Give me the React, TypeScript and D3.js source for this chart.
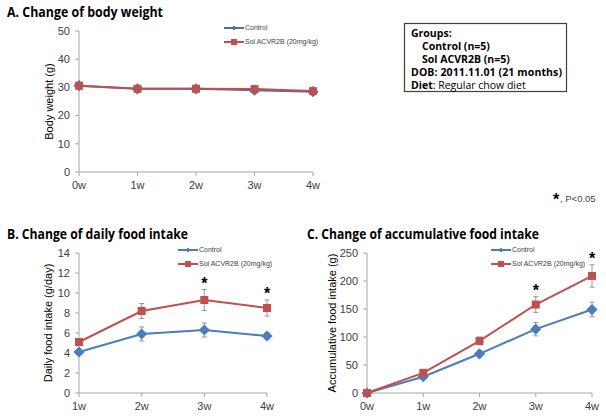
import React from "react";
import * as d3 from "d3";

const weeksA = ["0w", "1w", "2w", "3w", "4w"];
const bwControl = [30.6, 29.5, 29.5, 29.0, 28.5];
const bwSol = [30.6, 29.5, 29.5, 29.4, 28.7];
const bwTicks = [0, 10, 20, 30, 40, 50];

const weeksB = ["1w", "2w", "3w", "4w"];
const dailyControl = [4.1, 5.9, 6.3, 5.7];
const dailyControlErr = [0.2, 0.7, 0.7, 0.3];
const dailySol = [5.1, 8.2, 9.3, 8.5];
const dailySolErr = [0.3, 0.75, 1.05, 0.8];
const dailyTicks = [0, 2, 4, 6, 8, 10, 12, 14];
const dailyStars = ["3w", "4w"];

const weeksC = ["0w", "1w", "2w", "3w", "4w"];
const accControl = [0, 29, 70, 114, 149];
const accControlErr = [0, 3, 6, 12, 13];
const accSol = [0, 36, 93, 158, 209];
const accSolErr = [0, 3, 7, 14, 20];
const accTicks = [0, 50, 100, 150, 200, 250];
const accStars = ["3w", "4w"];

const BLUE = "#4A7EBB";
const BLUE_A = "#4F6FA8";
const RED = "#C0504D";
const AXIS = "#A6A6A6";
const TXT = "#404040";
const SANS = "'Liberation Sans', Arial, sans-serif";
const TITLE = "'Open Sans', 'Noto Sans', sans-serif";

type PanelProps = {
  x0: number; x1: number; y0: number; y1: number;
  cats: string[]; ticks: number[]; max: number;
  ctrl: number[]; sol: number[]; ctrlErr?: number[]; solErr?: number[];
  stars?: string[]; ylabel: string; ylabelX: number; legendX: number; legendY: number;
  ctrlColor: string; markerSize: number;
};

function Panel(p: PanelProps) {
  const x = d3.scalePoint<string>().domain(p.cats).range([p.x0, p.x1]);
  const y = d3.scaleLinear().domain([0, p.max]).range([p.y1, p.y0]);
  const line = d3.line<number>().x((_, i) => x(p.cats[i])!).y((d) => y(d));
  const ms = p.markerSize;
  const diamond = (cx: number, cy: number, s: number) =>
    `M${cx},${cy - s}L${cx + s},${cy}L${cx},${cy + s}L${cx - s},${cy}Z`;
  const errBars = (vals: number[], errs: number[] | undefined) =>
    errs
      ? vals.map((v, i) => {
          const cx = x(p.cats[i])!;
          if (!errs[i]) return null;
          return (
            <g key={i} stroke="#7F7F7F" strokeWidth={0.8}>
              <line x1={cx} x2={cx} y1={y(v - errs[i])} y2={y(v + errs[i])} />
              <line x1={cx - 2.5} x2={cx + 2.5} y1={y(v - errs[i])} y2={y(v - errs[i])} />
              <line x1={cx - 2.5} x2={cx + 2.5} y1={y(v + errs[i])} y2={y(v + errs[i])} />
            </g>
          );
        })
      : null;
  const midY = (p.y0 + p.y1) / 2;
  return (
    <g>
      <line x1={p.x0} x2={p.x0} y1={p.y0} y2={p.y1} stroke={AXIS} strokeWidth={1} />
      <line x1={p.x0} x2={p.x1} y1={p.y1} y2={p.y1} stroke={AXIS} strokeWidth={1} />
      {p.ticks.map((t) => (
        <g key={t}>
          <line x1={p.x0 - 4} x2={p.x0} y1={y(t)} y2={y(t)} stroke={AXIS} />
          <text x={p.x0 - 9} y={y(t)} dy="0.35em" textAnchor="end" fontSize={11} fill={TXT} fontFamily={SANS}>{t}</text>
        </g>
      ))}
      {p.cats.map((c) => (
        <g key={c}>
          <line x1={x(c)!} x2={x(c)!} y1={p.y1} y2={p.y1 + 4} stroke={AXIS} />
          <text x={x(c)!} y={p.y1 + 17} textAnchor="middle" fontSize={11} fill={TXT} fontFamily={SANS}>{c}</text>
        </g>
      ))}
      <text transform={`translate(${p.ylabelX},${midY}) rotate(-90)`} textAnchor="middle" fontSize={11} fill="#000" fontFamily={SANS}>{p.ylabel}</text>
      {errBars(p.ctrl, p.ctrlErr)}
      {errBars(p.sol, p.solErr)}
      <path d={line(p.ctrl)!} fill="none" stroke={p.ctrlColor} strokeWidth={2} />
      <path d={line(p.sol)!} fill="none" stroke={RED} strokeWidth={2} />
      {p.ctrl.map((v, i) => (
        <path key={"c" + i} d={diamond(x(p.cats[i])!, y(v), ms * 0.7)} fill={p.ctrlColor} />
      ))}
      {p.sol.map((v, i) => (
        <rect key={"s" + i} x={x(p.cats[i])! - ms / 2} y={y(v) - ms / 2} width={ms} height={ms} fill={RED} />
      ))}
      {p.stars && p.solErr
        ? p.stars.map((s) => {
            const i = p.cats.indexOf(s);
            return (
              <text key={s} x={x(s)!} y={y(p.sol[i] + p.solErr![i]) - 1} textAnchor="middle" fontSize={16} fontWeight="bold" fill="#000" fontFamily={SANS}>*</text>
            );
          })
        : null}
      <g fontFamily={SANS} fontSize={7} fill={TXT}>
        <line x1={p.legendX} x2={p.legendX + 20} y1={p.legendY} y2={p.legendY} stroke={p.ctrlColor} strokeWidth={2} />
        <path d={diamond(p.legendX + 10, p.legendY, 2.5)} fill={p.ctrlColor} />
        <text x={p.legendX + 21} y={p.legendY} dy="0.35em">Control</text>
        <line x1={p.legendX} x2={p.legendX + 20} y1={p.legendY + 14} y2={p.legendY + 14} stroke={RED} strokeWidth={2} />
        <rect x={p.legendX + 7} y={p.legendY + 11} width={6} height={6} fill={RED} />
        <text x={p.legendX + 21} y={p.legendY + 14} dy="0.35em">Sol ACVR2B (20mg/kg)</text>
      </g>
    </g>
  );
}

export default function App() {
  return (
    <svg width={606} height={418} style={{ position: "absolute", left: 0, top: 0, background: "#fff" }}>
      <rect width={606} height={418} fill="#fff" />
      <text x={7} y={17} fontSize={13.5} fontWeight="bold" fontFamily={TITLE} fill="#000" textLength={156} lengthAdjust="spacingAndGlyphs">A. Change of body weight</text>
      <text x={7} y={239} fontSize={13.5} fontWeight="bold" fontFamily={TITLE} fill="#000" textLength={181} lengthAdjust="spacingAndGlyphs">B. Change of daily food intake</text>
      <text x={307} y={239} fontSize={13.5} fontWeight="bold" fontFamily={TITLE} fill="#000" textLength={232} lengthAdjust="spacingAndGlyphs">C. Change of accumulative food intake</text>

      <Panel x0={79} x1={313} y0={31} y1={172} cats={weeksA} ticks={bwTicks} max={50}
        ctrl={bwControl} sol={bwSol} ylabel="Body weight (g)" ylabelX={53}
        legendX={224} legendY={28} ctrlColor={BLUE_A} markerSize={8} />
      <Panel x0={79} x1={267} y0={253} y1={393} cats={weeksB} ticks={dailyTicks} max={14}
        ctrl={dailyControl} sol={dailySol} ctrlErr={dailyControlErr} solErr={dailySolErr}
        stars={dailyStars} ylabel="Daily food intake (g/day)" ylabelX={52}
        legendX={178} legendY={250} ctrlColor={BLUE} markerSize={8} />
      <Panel x0={367} x1={592} y0={253} y1={393} cats={weeksC} ticks={accTicks} max={250}
        ctrl={accControl} sol={accSol} ctrlErr={accControlErr} solErr={accSolErr}
        stars={accStars} ylabel="Accumulative food intake (g)" ylabelX={336}
        legendX={491} legendY={250} ctrlColor={BLUE} markerSize={8} />

      <rect x={404.5} y={23.5} width={162} height={68} fill="#fff" stroke="#404040" strokeWidth={1.2} />
      <g fontFamily={TITLE} fontSize={10.5} fill="#000">
        <text x={411} y={37} fontWeight="bold">Groups:</text>
        <text x={422} y={50} fontWeight="bold">Control (n=5)</text>
        <text x={422} y={63} fontWeight="bold">Sol ACVR2B (n=5)</text>
        <text x={411} y={76} fontWeight="bold" textLength={151} lengthAdjust="spacing">DOB: 2011.11.01  (21 months)</text>
        <text x={411} y={89}><tspan fontWeight="bold">Diet</tspan>: Regular chow diet</text>
      </g>
      <text x={553} y={205} fontSize={16} fontWeight="bold" fontFamily={SANS}>*</text>
      <text x={560} y={202} fontSize={9.5} fontFamily={SANS} fill={TXT}>, P&lt;0.05</text>
    </svg>
  );
}
